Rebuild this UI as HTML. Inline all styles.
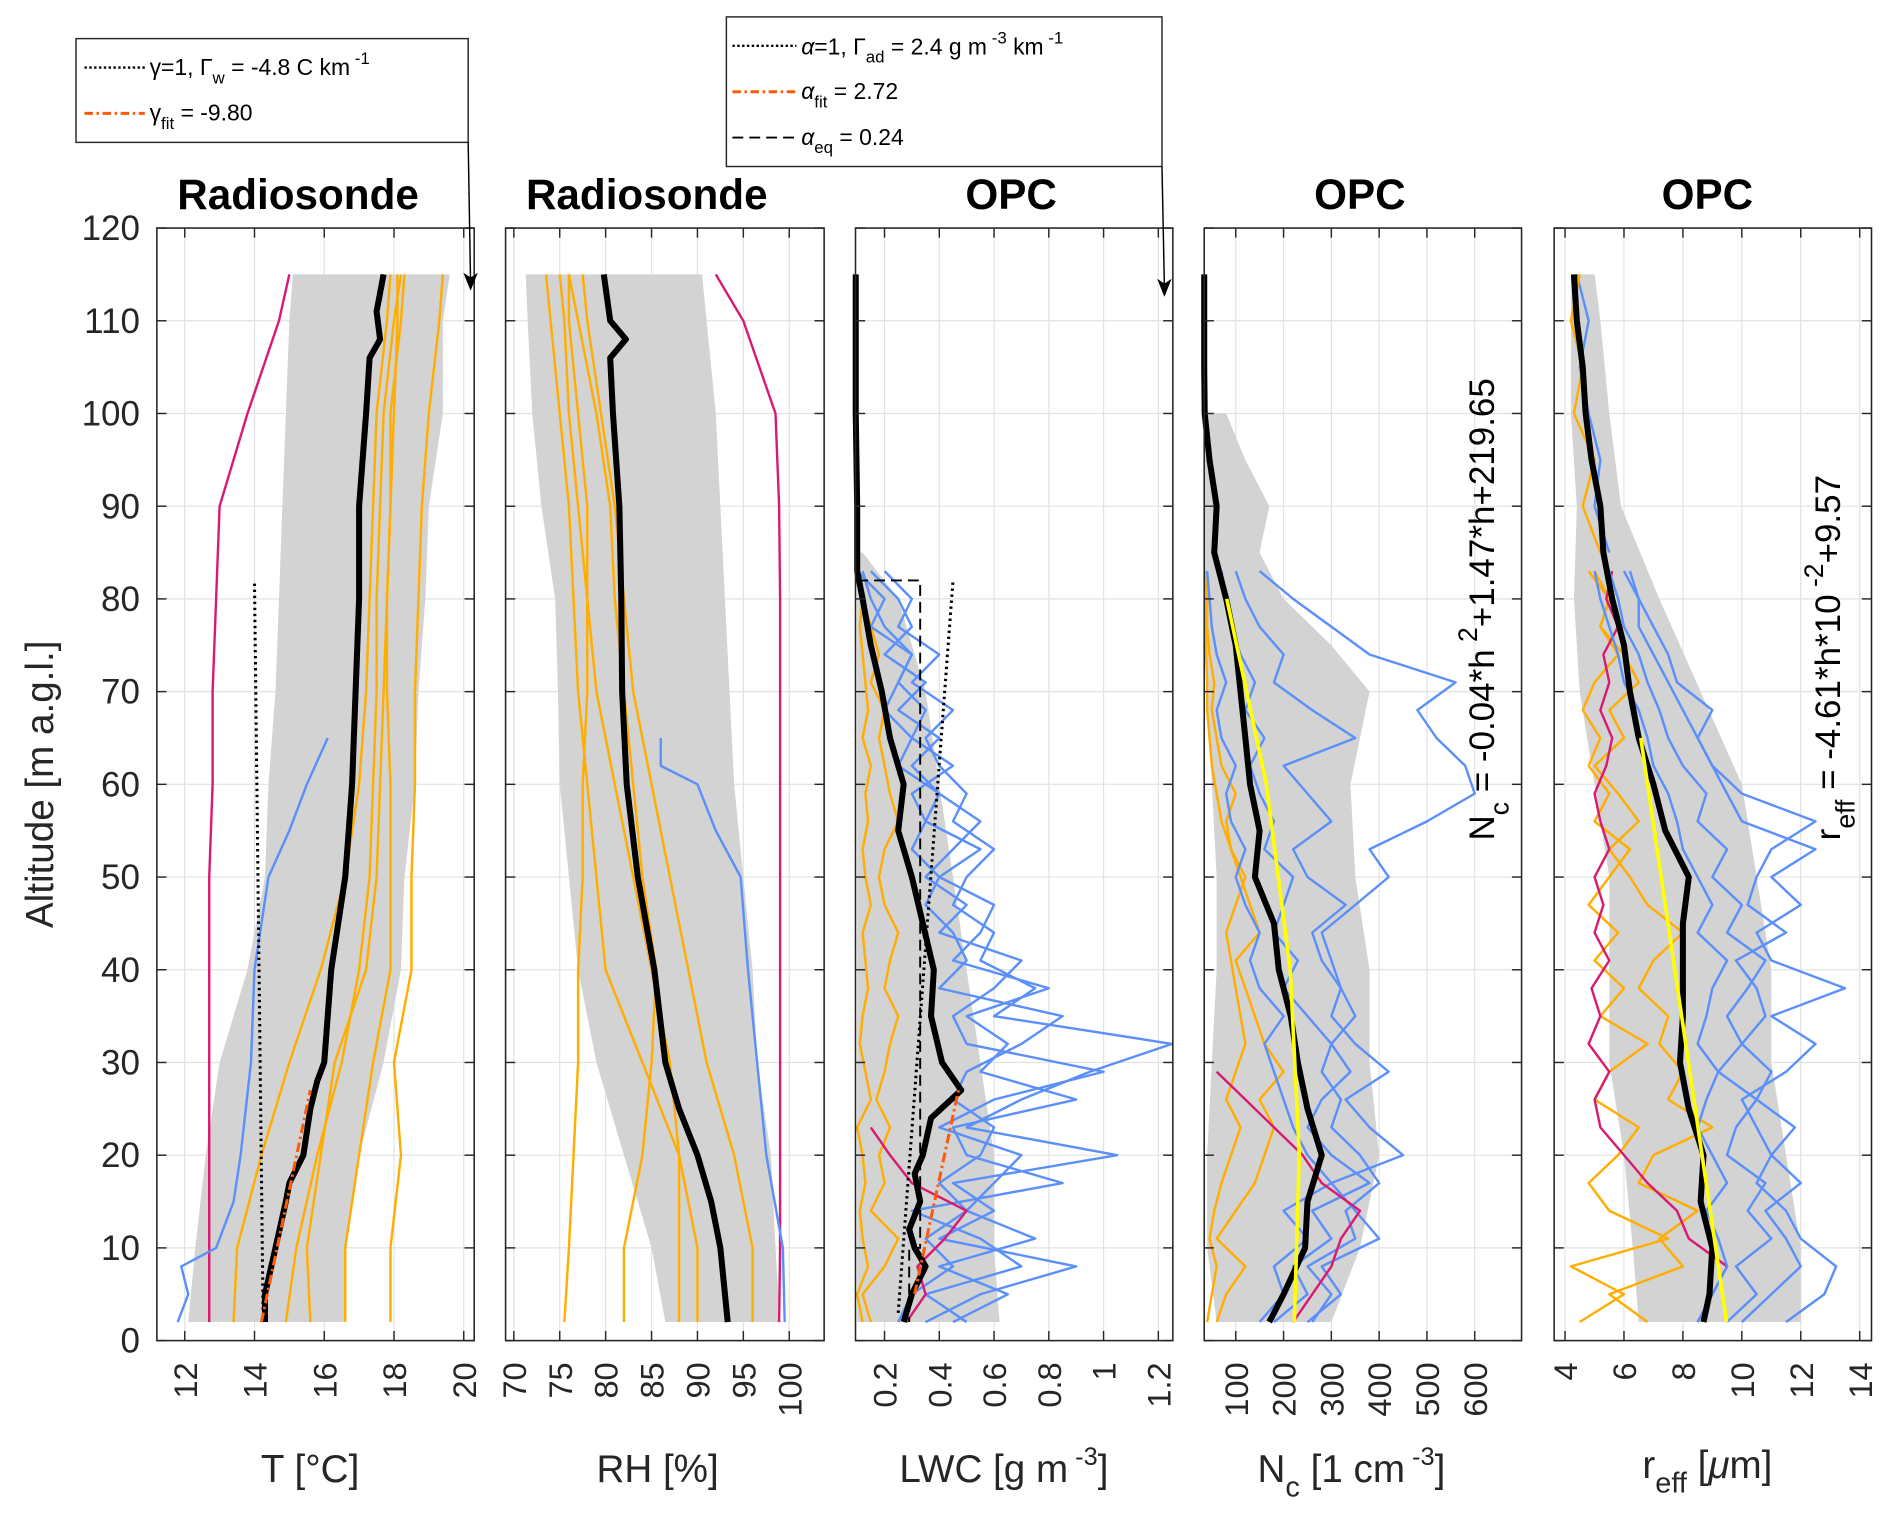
<!DOCTYPE html>
<html><head><meta charset="utf-8">
<style>
html,body{margin:0;padding:0;background:#fff;}
svg{display:block;font-family:"Liberation Sans",sans-serif;}
</style></head>
<body>
<svg id="fig" width="1892" height="1528" viewBox="0 0 1568 1266.3" preserveAspectRatio="none" xmlns="http://www.w3.org/2000/svg">
<g id="root"></g>
</svg>
<script>
// ---------- shared altitude grids ----------
const altsR = [2,10,20,30,40,50,60,70,80,90,100,110,115];
const altsO = [2,5,8,11,14,17,20,23,26,29,32,35,38,41,44,47,50,53,56,59,62,65,68,71,74,77,80,83];
const yTicks = [0,10,20,30,40,50,60,70,80,90,100,110,120];

// ---------- Panel 1: Temperature ----------
const tMeanAlt = [2,5,10,15,17,20,25,28,30,35,40,45,50,55,60,70,80,90,100,106,108,111,115];
const tMean = [14.3,14.3,14.6,14.9,15.0,15.4,15.6,15.8,16.0,16.1,16.2,16.4,16.6,16.7,16.8,16.9,17.0,17.0,17.2,17.3,17.6,17.5,17.7];
const tLo = [12.1,12.3,12.6,13.0,13.8,14.3,14.4,14.6,14.7,14.8,14.9,15.0,15.1];
const tHi = [16.6,16.6,17.0,17.7,18.2,18.3,18.6,18.7,18.9,19.0,19.4,19.4,19.6];
const tMag = [12.7,12.7,12.7,12.7,12.7,12.7,12.8,12.8,12.9,13.0,13.8,14.7,15.0];
const tBlueAlt = [2,5,8,10,15,20,30,40,50,55,60,65];
const tBlue = [11.8,12.1,11.9,12.9,13.4,13.6,13.9,14.0,14.4,15.0,15.5,16.1];
const tOr1 = [16.6,16.6,17.0,17.4,17.9,17.9,17.9,17.8,17.8,17.9,18.0,18.1,18.1];
const tOr2 = [15.6,15.5,15.9,16.3,17.2,17.5,17.6,17.7,17.8,17.9,17.9,18.2,18.3];
const tOr3 = [17.9,17.9,18.2,18.0,18.5,18.5,18.6,18.6,18.7,18.8,19.0,19.3,19.4];
const tOr4 = [14.9,15.2,15.8,16.5,17.0,17.3,17.4,17.5,17.5,17.6,17.7,18.0,18.2];
const tOr5 = [13.4,13.5,14.2,15.0,15.9,16.6,17.0,17.2,17.3,17.4,17.5,17.8,17.9];
const tDotAlt = [2,82]; const tDot = [14.25,14.0];
const tFitAlt = [2,27]; const tFit = [14.2,15.6];

// ---------- Panel 2: RH ----------
const rhMeanAlt = [2,10,15,20,25,30,40,50,60,70,80,90,100,106,108,110,115];
const rhMean = [93.3,92.5,91.5,90,88,86.5,85.3,83.5,82.3,81.8,81.7,81.5,80.8,80.5,82.2,80.5,79.8];
const rhLo = [86.5,85,82,79,77,76,75,74.8,74.5,73,72,71.5,71.3];
const rhHi = [99,98.5,98,96.5,96,95,94,93.5,93,92.5,92,91,90.5];
const rhMag = [98.9,99,99,99,99,99,99,99,99,98.9,98.5,95,92];
const rhBlueAlt = [2,10,20,30,40,50,55,60,62,65];
const rhBlue = [99.5,99.3,97.5,96.5,95.5,94.7,92,90,86,86];
const rhOr1 = [82,82,84,85,85.5,84,83,82,81,80.5,79,77,76];
const rhOr2 = [75.5,76,76.5,77,77,77.5,77.5,78,78,78,77,76,76];
const rhOr3 = [88,88,88,87,85,83,81,79,78,77,76,75.5,75];
const rhOr4 = [96,96,94,91,89,87,85,83,82,81,79.5,78,77.5];
const rhOr5 = [90,90,88,84,80,79,78,77,76.5,76,75,74,73.5];

// ---------- Panel 3: LWC ----------
const lwcMeanAlt = [2,5,8,10,12,15,18,20,24,27,30,35,40,45,50,55,60,65,70,75,80,83,86,90,100,115];
const lwcMean = [0.27,0.30,0.35,0.31,0.29,0.33,0.31,0.34,0.37,0.48,0.41,0.37,0.38,0.34,0.30,0.25,0.27,0.22,0.19,0.15,0.12,0.10,0.10,0.10,0.095,0.095];
const lwcBandAlt = [2,10,20,30,40,50,60,70,80,85];
const lwcLo = [0.10,0.10,0.10,0.10,0.10,0.10,0.10,0.10,0.10,0.10];
const lwcHi = [0.62,0.60,0.60,0.55,0.50,0.45,0.40,0.35,0.25,0.12];
const lwcB1 = [0.35,0.55,0.9,0.4,0.6,0.45,1.05,0.5,0.7,0.95,1.25,0.6,0.75,0.55,0.6,0.45,0.5,0.6,0.45,0.5,0.4,0.35,0.45,0.3,0.4,0.25,0.3,0.2];
const lwcB2 = [0.5,0.35,0.7,0.55,0.3,0.85,0.5,0.45,0.9,0.55,0.65,0.5,0.8,0.45,0.55,0.6,0.4,0.55,0.35,0.3,0.45,0.3,0.35,0.25,0.3,0.2,0.15,0.12];
const lwcB3 = [0.45,0.65,0.4,0.75,0.5,0.6,0.7,0.4,0.6,1.0,0.5,0.45,0.6,0.7,0.4,0.5,0.35,0.45,0.55,0.4,0.3,0.4,0.25,0.35,0.2,0.3,0.25,0.15];
const lwcB4 = [0.25,0.3,0.45,0.35,0.5,0.4,0.55,0.6,0.45,0.5,0.7,0.85,0.4,0.5,0.45,0.35,0.4,0.3,0.35,0.4,0.25,0.3,0.2,0.25,0.3,0.15,0.2,0.1];
const lwcO1 = [0.15,0.12,0.2,0.25,0.15,0.2,0.18,0.22,0.17,0.2,0.22,0.25,0.2,0.22,0.25,0.2,0.18,0.2,0.25,0.22,0.2,0.18,0.2,0.15,0.18,0.15,0.12,0.1];
const lwcO2 = [0.12,0.1,0.14,0.12,0.11,0.13,0.12,0.1,0.15,0.13,0.11,0.12,0.14,0.13,0.12,0.15,0.13,0.12,0.14,0.13,0.15,0.12,0.14,0.13,0.12,0.11,0.12,0.1];
const lwcMagAlt = [2,5,8,11,14,17,20,23];
const lwcMag = [0.28,0.35,0.32,0.42,0.5,0.3,0.22,0.15];
const lwcDotAlt = [3,82]; const lwcDot = [0.25,0.45];
const lwcDashAlt = [82,82,10,10,2]; const lwcDash = [0.1,0.33,0.33,0.29,0.29];
const lwcFitAlt = [5,27]; const lwcFit = [0.31,0.47];

// ---------- Panel 4: Nc ----------
const ncMeanAlt = [2,5,10,15,20,25,30,35,40,45,50,55,60,65,70,75,80,85,90,95,100,105,115];
const ncMean = [170,200,245,250,280,250,230,215,190,180,140,150,130,120,110,100,80,55,60,45,35,34,34];
const ncBandAlt = [2,10,20,30,40,50,60,70,75,80,85,90,95,100];
const ncLo = [60,40,40,50,60,60,50,40,38,35,34,34,34,34];
const ncHi = [300,360,400,380,380,350,340,380,300,200,150,170,120,80];
const ncB1 = [250,320,280,400,350,300,450,380,330,420,350,300,320,280,260,330,250,220,300,250,200,350,260,180,200,150,120,100];
const ncB2 = [180,250,220,300,260,380,300,250,280,340,300,250,200,230,180,200,220,160,180,150,130,160,120,140,110,90,80,70];
const ncB3 = [260,300,250,350,330,400,360,300,320,280,300,350,320,300,280,350,420,380,500,600,580,520,480,560,380,300,220,150];
const ncB4 = [150,200,180,250,200,300,250,220,200,180,160,200,150,130,150,120,100,120,90,80,100,70,60,80,60,50,45,40];
const ncO1 = [60,80,120,60,100,140,160,180,150,200,160,140,120,100,150,130,110,90,80,100,70,60,50,55,45,40,40,35];
const ncO2 = [40,50,60,45,55,70,90,110,80,100,120,110,100,90,80,100,120,90,70,60,50,45,40,40,38,36,35,35];
const ncMagAlt = [2,5,8,11,14,17,20,23,26,29];
const ncMag = [220,260,300,320,360,280,240,180,120,60];
const ncFitAlt = [2,20,40,60,80];
const ncFit = [222.5,233,214,164,81.3];

// ---------- Panel 5: r_eff ----------
const reMeanAlt = [2,5,10,15,20,25,30,35,40,45,50,55,60,65,70,75,80,85,90,95,100,105,110,115];
const reMean = [8.7,8.9,9.0,8.6,8.7,8.2,7.9,8.0,8.0,8.0,8.2,7.4,7.0,6.5,6.2,6.0,5.6,5.3,5.2,4.9,4.7,4.6,4.4,4.3];
const reBandAlt = [2,10,20,30,40,50,60,70,80,90,100,110,115];
const reLo = [6.5,6.3,6.0,5.5,5.5,5.5,5.0,4.5,4.3,4.4,4.2,4.2,4.2];
const reHi = [12,12,11.5,11,11,10.5,10.0,8.6,7.2,5.9,5.5,5.2,5.0];
const reB1 = [10,11,12,11.5,10.8,12,11,10.5,10,11.5,12.5,11,13.5,11,10.5,12,11,12.5,10,9.5,9,8.5,8,7.5,7,6.5,6.5,6];
const reB2 = [9.5,10.5,9.8,11,10.2,10.8,9.5,9.8,10.5,9.2,10,9.5,10.2,10.8,9.5,10,9,9.5,8.5,8.8,8,7.5,7.2,6.8,6.5,6,5.8,5.5];
const reB3 = [11.5,12.8,13.2,12,11.5,10.5,11,11.8,10.5,11,10,10.8,10.5,9.8,11.5,10.2,10.5,11,12.5,10,9,8.5,9,7.8,7.5,7,6.5,6.2];
const reB4 = [8.5,9,9.5,9.2,8.8,9.5,9,8.5,8.8,9.2,8.5,8.8,9,9.5,8.5,9,8.5,8,7.8,7.5,7,6.8,6.5,6,5.8,5.5,5.2,5];
const reO1 = [4.5,6,4.2,7.5,5.5,4.8,5.8,6.5,5,5.5,6.8,5.2,6,5,5.8,4.8,5.5,6.2,5,5.5,4.8,5.2,4.6,5,5.8,5.2,5.5,5];
const reO2 = [6.8,5.5,8,7.2,8.5,6.5,7,9,7.5,8,7.2,7.5,6.5,7,8,6.8,6.2,5.5,6.5,5.8,5,6,5.5,6.5,6,5.2,5.5,4.8];
const reMag = [8.5,9,9.5,8.2,7.8,6.8,6,5.2,5,5.5,4.8,5.2,4.9,5.5,5,5.3,5,5.5,5.2,5,5.4,5.6,5.2,5.5,5.3,5.8,5.4,5.6];
const reUpAlt = [85,90,95,100,105,110,115];
const reBlueUp = [5.5,5,5.2,4.8,4.5,4.8,4.4];
const reOrUp = [5.2,4.6,5,4.3,4.6,4.2,4.5];
const reFitAlt = [2,65];
const reFit = [9.48,6.57];

// ---------- tick labels ----------
const tTicks = [12,14,16,18,20];
const rhTicks = [70,75,80,85,90,95,100];
const lwcTicks = [0.2,0.4,0.6,0.8,1,1.2];
const lwcTickLabels = ["0.2","0.4","0.6","0.8","1","1.2"];
const ncTicks = [100,200,300,400,500,600];
const reTicks = [4,6,8,10,12,14];

// ---------- drawing ----------
const NS = "http://www.w3.org/2000/svg";
const root = document.getElementById('root');
const Y0 = 1111, YT = 189;
function yOf(a){ return Y0 - a*(Y0-YT)/120; }
function mk(tag, attrs, parent){ const e=document.createElementNS(NS,tag); for(const k in attrs) e.setAttribute(k,attrs[k]); (parent||root).appendChild(e); return e; }

const BLUE="#5b8ff9", ORANGE="#ffad00", MAG="#d81b72";

function makePanel(name, x0, x1, vmin, vmax){
  const g = mk('g',{});
  
  
  const sx = v => x0 + (v-vmin)/(vmax-vmin)*(x1-x0);
  return {g, sx, x0, x1};
}
function pathD(P, vals, alts){ return vals.map((v,i)=>(i?'L':'M')+P.sx(v).toFixed(1)+' '+yOf(alts[i]).toFixed(1)).join(' '); }
function line(P, nm, vals, alts, color, w, dash){
  const p = mk('path',{d:pathD(P,vals,alts), fill:'none', stroke:color, 'stroke-width':w, 'stroke-linejoin':'round'}, P.g);
  if(dash) p.setAttribute('stroke-dasharray', dash);
  
  
}
function band(P, nm, lo, hi, alts){
  let d = lo.map((v,i)=>(i?'L':'M')+P.sx(v).toFixed(1)+' '+yOf(alts[i]).toFixed(1)).join(' ');
  for(let i=hi.length-1;i>=0;i--) d += ' L'+P.sx(hi[i]).toFixed(1)+' '+yOf(alts[i]).toFixed(1);
  const p = mk('path',{d:d+'Z', fill:'#d3d3d3', stroke:'none'}, P.g);
  
  
}
function axes(P, nm, ticks, labels, showY){
  const g = P.g;
  for(const t of yTicks){ const y=yOf(t);
    mk('line',{x1:P.x0,x2:P.x1,y1:y,y2:y,stroke:'#e2e2e2','stroke-width':1},g);
  }
  ticks.forEach((t,i)=>{ const x=P.sx(t);
    mk('line',{x1:x,x2:x,y1:YT,y2:Y0,stroke:'#e2e2e2','stroke-width':1},g);
  });
}
function frame(P, nm, ticks, labels, showY){
  const g = P.g;
  const r = mk('rect',{x:P.x0,y:YT,width:P.x1-P.x0,height:Y0-YT,fill:'none',stroke:'#262626','stroke-width':1.3},g);
  
  
  for(const t of yTicks){ const y=yOf(t);
    mk('line',{x1:P.x0,x2:P.x0+8,y1:y,y2:y,stroke:'#262626','stroke-width':1.2},g);
    mk('line',{x1:P.x1-8,x2:P.x1,y1:y,y2:y,stroke:'#262626','stroke-width':1.2},g);
    if(showY){ const tx = mk('text',{x:P.x0-14,y:y+10,'text-anchor':'end','font-size':29,fill:'#262626'},g);
      tx.textContent = t;
      
       }
  }
  ticks.forEach((t,i)=>{ const x=P.sx(t);
    mk('line',{x1:x,x2:x,y1:Y0-8,y2:Y0,stroke:'#262626','stroke-width':1.2},g);
    mk('line',{x1:x,x2:x,y1:YT,y2:YT+8,stroke:'#262626','stroke-width':1.2},g);
    const tx = mk('text',{x:0,y:0,'text-anchor':'end','font-size':27,fill:'#262626',transform:`translate(${x+10},${Y0+18}) rotate(-90)`},g);
    tx.textContent = labels[i];
    
    
  });
}

// Panel 1
const P1 = makePanel('temperature',130,393,11.2,20.3);
axes(P1,'t',tTicks,tTicks.map(String),true);
band(P1,'t-spread-band',tLo,tHi,altsR);
line(P1,'t-magenta-profile',tMag,altsR,MAG,2);
line(P1,'t-blue-profile',tBlue,tBlueAlt,BLUE,2);
[tOr1,tOr2,tOr3,tOr4,tOr5].forEach(a=>line(P1,'t-orange-profile',a,altsR,ORANGE,2));
line(P1,'t-mean-profile',tMean,tMeanAlt,'#000',5);
line(P1,'t-moist-adiabat',tDot,tDotAlt,'#000',2.5,'2 3');
line(P1,'t-fit-line',tFit,tFitAlt,'#ff5a0a',2.5,'8 3 2 3');
frame(P1,'t',tTicks,tTicks.map(String),true);

// Panel 2
const P2 = makePanel('rh',419,683,69.1,103.8);
axes(P2,'rh',rhTicks,rhTicks.map(String),false);
band(P2,'rh-spread-band',rhLo,rhHi,altsR);
line(P2,'rh-magenta-profile',rhMag,altsR,MAG,2);
line(P2,'rh-blue-profile',rhBlue,rhBlueAlt,BLUE,2);
[rhOr1,rhOr2,rhOr3,rhOr4,rhOr5].forEach(a=>line(P2,'rh-orange-profile',a,altsR,ORANGE,2));
line(P2,'rh-mean-profile',rhMean,rhMeanAlt,'#000',5);
frame(P2,'rh',rhTicks,rhTicks.map(String),false);

// Panel 3
const P3 = makePanel('lwc',709,972,0.094,1.253);
axes(P3,'lwc',lwcTicks,lwcTickLabels,false);
band(P3,'lwc-spread-band',lwcLo,lwcHi,lwcBandAlt);
[lwcO1,lwcO2].forEach(a=>line(P3,'lwc-orange-profile',a,altsO,ORANGE,2));
[lwcB1,lwcB2,lwcB3,lwcB4].forEach(a=>line(P3,'lwc-blue-profile',a,altsO,BLUE,2));
line(P3,'lwc-magenta-profile',lwcMag,lwcMagAlt,MAG,2);
line(P3,'lwc-mean-profile',lwcMean,lwcMeanAlt,'#000',5);
line(P3,'lwc-adiabatic-line',lwcDot,lwcDotAlt,'#000',2.5,'2 3');
line(P3,'lwc-equivalent-line',lwcDash,lwcDashAlt,'#000',1.6,'9 5');
line(P3,'lwc-fit-line',lwcFit,lwcFitAlt,'#ff5a0a',2.5,'8 3 2 3');
frame(P3,'lwc',lwcTicks,lwcTickLabels,false);

// Panel 4
const P4 = makePanel('nc',998,1261,34,698);
axes(P4,'nc',ncTicks,ncTicks.map(String),false);
band(P4,'nc-spread-band',ncLo,ncHi,ncBandAlt);
[ncO1,ncO2].forEach(a=>line(P4,'nc-orange-profile',a,altsO,ORANGE,2));
[ncB1,ncB2,ncB3,ncB4].forEach(a=>line(P4,'nc-blue-profile',a,altsO,BLUE,2));
line(P4,'nc-magenta-profile',ncMag,ncMagAlt,MAG,2);
line(P4,'nc-mean-profile',ncMean,ncMeanAlt,'#000',5);
line(P4,'nc-fit-line',ncFit,ncFitAlt,'#ffff00',3);
frame(P4,'nc',ncTicks,ncTicks.map(String),false);

// Panel 5
const P5 = makePanel('reff',1288,1551,3.63,14.4);
axes(P5,'reff',reTicks,reTicks.map(String),false);
band(P5,'reff-spread-band',reLo,reHi,reBandAlt);
[reO1,reO2].forEach(a=>line(P5,'reff-orange-profile',a,altsO,ORANGE,2));
line(P5,'reff-magenta-profile',reMag,altsO,MAG,2);
[reB1,reB2,reB3,reB4].forEach(a=>line(P5,'reff-blue-profile',a,altsO,BLUE,2));
line(P5,'reff-blue-upper',reBlueUp,reUpAlt,BLUE,2);
line(P5,'reff-orange-upper',reOrUp,reUpAlt,ORANGE,2);
line(P5,'reff-mean-profile',reMean,reMeanAlt,'#000',5);
line(P5,'reff-fit-line',reFit,reFitAlt,'#ffff00',3);
frame(P5,'reff',reTicks,reTicks.map(String),false);
</script>
<script>
// static text & legends
(function(){
const NS="http://www.w3.org/2000/svg";
const svg=document.getElementById('fig');
const s = `
<g font-family="Liberation Sans, sans-serif" fill="#000">
 <text x="247" y="173" text-anchor="middle" font-size="35" font-weight="bold">Radiosonde</text>
 <text x="536" y="173" text-anchor="middle" font-size="35" font-weight="bold">Radiosonde</text>
 <text x="838" y="173" text-anchor="middle" font-size="35" font-weight="bold">OPC</text>
 <text x="1127" y="173" text-anchor="middle" font-size="35" font-weight="bold">OPC</text>
 <text x="1415" y="173" text-anchor="middle" font-size="35" font-weight="bold">OPC</text>
 <text transform="translate(44,650) rotate(-90)" text-anchor="middle" font-size="32" fill="#262626">Altitude [m a.g.l.]</text>
 <text x="257" y="1228" text-anchor="middle" font-size="32" fill="#262626">T [°C]</text>
 <text x="545" y="1228" text-anchor="middle" font-size="32" fill="#262626">RH [%]</text>
 <text x="832" y="1228" text-anchor="middle" font-size="32" fill="#262626">LWC [g m<tspan dy="-14" font-size="21"> -3</tspan><tspan dy="14">]</tspan></text>
 <text x="1120" y="1228" text-anchor="middle" font-size="32" fill="#262626">N<tspan dy="12" font-size="24">c</tspan><tspan dy="-12"> [1 cm</tspan><tspan dy="-14" font-size="21"> -3</tspan><tspan dy="14">]</tspan></text>
 <text x="1415" y="1225" text-anchor="middle" font-size="32" fill="#262626">r<tspan dy="12" font-size="24">eff</tspan><tspan dy="-12"> [</tspan><tspan font-style="italic">μ</tspan>m]</text>
 <text transform="translate(1238,505) rotate(-90)" text-anchor="middle" font-size="29">N<tspan dy="12" font-size="22">c</tspan><tspan dy="-12"> = -0.04*h</tspan><tspan dy="-14" font-size="22"> 2</tspan><tspan dy="14">+1.47*h+219.65</tspan></text>
 <text transform="translate(1525,545) rotate(-90)" text-anchor="middle" font-size="29">r<tspan dy="12" font-size="22">eff</tspan><tspan dy="-12"> = -4.61*h*10</tspan><tspan dy="-14" font-size="22"> -2</tspan><tspan dy="14">+9.57</tspan></text>

 <g>
  <rect x="63" y="32" width="325" height="86" fill="#fff" stroke="#262626" stroke-width="1.2"/>
  <line x1="70" y1="56" x2="120" y2="56" stroke="#000" stroke-width="2" stroke-dasharray="2 2"/>
  <text x="124" y="62" font-size="19">γ=1,  Γ<tspan dy="7" font-size="14">w</tspan><tspan dy="-7"> = -4.8  C km</tspan><tspan dy="-9" font-size="14"> -1</tspan></text>
  <line x1="70" y1="94" x2="120" y2="94" stroke="#ff5a0a" stroke-width="2.5" stroke-dasharray="7 3 2 3"/>
  <text x="124" y="100" font-size="19">γ<tspan dy="7" font-size="14">fit</tspan><tspan dy="-7"> = -9.80</tspan></text>
  <polyline points="388,118 390,235" fill="none" stroke="#000" stroke-width="1.2"/>
  <path d="M384,226 L390,241 L396,226 L390,230Z" fill="#000"/>
 </g>
 <g>
  <rect x="602" y="14" width="361" height="124" fill="#fff" stroke="#262626" stroke-width="1.2"/>
  <line x1="607" y1="38" x2="660" y2="38" stroke="#000" stroke-width="2" stroke-dasharray="2 2"/>
  <text x="664" y="45" font-size="19"><tspan font-style="italic">α</tspan>=1,  Γ<tspan dy="7" font-size="14">ad</tspan><tspan dy="-7"> = 2.4 g  m</tspan><tspan dy="-9" font-size="14"> -3</tspan><tspan dy="9"> km</tspan><tspan dy="-9" font-size="14"> -1</tspan></text>
  <line x1="607" y1="76" x2="660" y2="76" stroke="#ff5a0a" stroke-width="2.5" stroke-dasharray="7 3 2 3"/>
  <text x="664" y="82" font-size="19"><tspan font-style="italic">α</tspan><tspan dy="7" font-size="14">fit</tspan><tspan dy="-7">  = 2.72</tspan></text>
  <line x1="607" y1="114" x2="660" y2="114" stroke="#000" stroke-width="1.5" stroke-dasharray="9 5"/>
  <text x="664" y="120" font-size="19"><tspan font-style="italic">α</tspan><tspan dy="7" font-size="14">eq</tspan><tspan dy="-7"> = 0.24</tspan></text>
  <polyline points="963,138 965,238" fill="none" stroke="#000" stroke-width="1.2"/>
  <path d="M959,231 L965,246 L971,231 L965,235Z" fill="#000"/>
 </g>
</g>`;
const tmp=document.createElementNS(NS,'g');
tmp.innerHTML=s;
svg.appendChild(tmp);
})();
</script>
</body></html>
